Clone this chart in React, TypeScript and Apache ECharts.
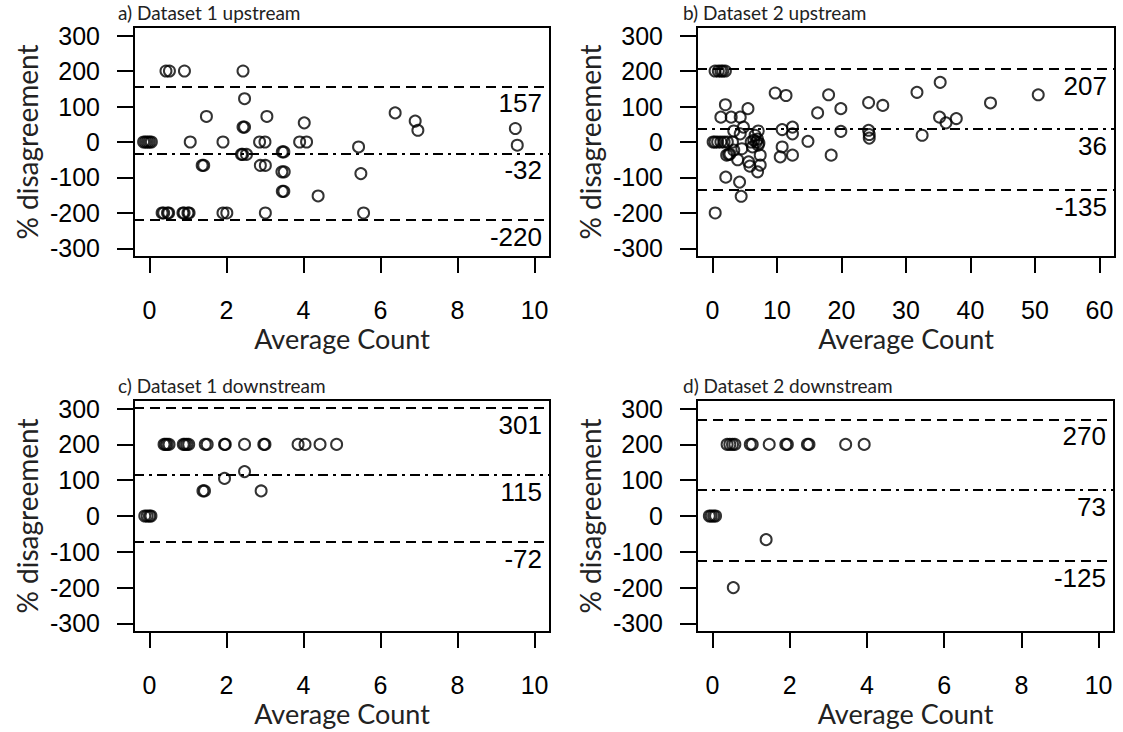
import React, { useEffect, useRef } from "react";
import * as echarts from "echarts";

// ---------- data ----------
const titles = ["a) Dataset 1 upstream", "b) Dataset 2 upstream", "c) Dataset 1 downstream", "d) Dataset 2 downstream"];

const xTicksSmall = [0, 2, 4, 6, 8, 10];
const xTicksLarge = [0, 10, 20, 30, 40, 50, 60];
const yTicks = [-300, -200, -100, 0, 100, 200, 300];

// limits: [upper, mean, lower]
const limitsA = [157, -32, -220];
const limitsB = [207, 36, -135];
const limitsC = [301, 115, -72];
const limitsD = [270, 73, -125];

// a) Dataset 1 upstream
const aX = [-0.15, -0.1, -0.05, 0, 0.05, 1.06, 1.91, 2.86, 3.0, 3.9, 4.08,
  0.43, 0.52, 0.91, 2.43,
  2.47, 1.48, 3.05, 6.38, 6.9, 6.97, 4.02, 9.5, 9.55,
  2.43, 2.47, 5.43,
  2.39, 2.42, 2.52, 3.45, 3.49,
  1.37, 1.41, 2.88, 3.01,
  3.44, 3.5, 5.49,
  3.45, 3.49, 4.38,
  0.33, 0.37, 0.47, 0.5, 0.87, 0.9, 1.0, 1.03, 1.91, 2.01, 3.01, 5.56];
const aY = [0, 0, 0, 0, 0, 0, 0, 0, 0, 0, 0,
  200, 200, 200, 200,
  122, 72, 72, 82, 59, 33, 54, 38, -9,
  42, 42, -14,
  -35, -35, -35, -28, -28,
  -66, -66, -66, -66,
  -84, -84, -89,
  -139, -139, -152,
  -200, -200, -200, -200, -200, -200, -200, -200, -200, -200, -200, -200];

// b) Dataset 2 upstream
const bX = [0.4, 0.9, 1.3, 1.6, 2.0,
  9.72, 11.4, 18.0, 31.7, 35.3, 50.5, 43.1, 24.2, 26.4, 19.9, 16.3, 35.2, 36.2, 37.8,
  32.5, 19.9, 24.2, 24.3, 24.3, 10.8, 12.4, 12.4, 14.8, 10.8, 10.5, 12.4, 18.4,
  2.0, 1.3, 2.9, 4.3, 5.5, 3.3, 4.8, 4.3, 7.1, 6.6,
  0.1, 0.4, 0.8, 1.3, 1.8, 2.3, 3.1,
  6.0, 6.4, 6.8, 7.2, 7.0,
  4.55, 3.3, 2.2, 2.5, 2.7, 3.9, 5.6, 5.8, 7.0, 7.4, 7.4, 6.2, 7.1, 2.06, 4.2, 4.45, 0.42];
const bY = [200, 200, 200, 200, 200,
  138, 131, 133, 140, 168, 133, 110, 111, 103, 94, 82, 70, 54, 66,
  19, 30, 33, 21, 11, 35, 42, 23, 2, -14, -42, -37, -37,
  105, 70, 70, 70, 94, 31, 42, 23, 31, 19,
  0, 0, 0, 0, 0, 0, 0,
  0, 5, 0, -3, 8,
  -19, -23, -37, -35, -34, -50, -56, -68, -84, -65, -37, -14, -9, -99, -113, -153, -200];

// c) Dataset 1 downstream
const cX = [0.38, 0.42, 0.46, 0.51, 0.88, 0.92, 0.97, 1.02, 1.45, 1.5, 1.95, 1.97, 2.47, 2.97, 3.0,
  3.86, 4.04, 4.43, 4.86,
  1.95, 2.47, 1.39, 1.43, 2.9,
  -0.12, -0.06, 0, 0.04];
const cY = [200, 200, 200, 200, 200, 200, 200, 200, 200, 200, 200, 200, 200, 200, 200,
  200, 200, 200, 200,
  105, 124, 70, 70, 70,
  0, 0, 0, 0];

// d) Dataset 2 downstream
const dX = [0.38, 0.45, 0.52, 0.58, 0.98, 1.03, 1.47, 1.9, 1.94, 2.46, 2.5, 3.45, 3.93,
  1.39, 0.54,
  -0.08, -0.03, 0.03, 0.08];
const dY = [200, 200, 200, 200, 200, 200, 200, 200, 200, 200, 200, 200, 200,
  -66, -200,
  0, 0, 0, 0];

// ---------- chart ----------
const NUM_FONT = '"Liberation Sans", Arial, sans-serif';
const TXT_FONT = 'Lato, "Open Sans", sans-serif';

const grids = [
  { left: 134, top: 27, width: 416, height: 230 },
  { left: 697, top: 27, width: 418, height: 230 },
  { left: 134, top: 400, width: 416, height: 232 },
  { left: 697, top: 400, width: 417, height: 232 },
];

const panels = [
  { xs: aX, ys: aY, lim: limitsA, ticks: xTicksSmall, min: -0.4, max: 10.4 },
  { xs: bX, ys: bY, lim: limitsB, ticks: xTicksLarge, min: -2.4, max: 62.4 },
  { xs: cX, ys: cY, lim: limitsC, ticks: xTicksSmall, min: -0.4, max: 10.4 },
  { xs: dX, ys: dY, lim: limitsD, ticks: xTicksSmall, min: -0.4, max: 10.4 },
];

const titlePos = [
  { left: 118, top: 3 },
  { left: 683, top: 3 },
  { left: 118, top: 376 },
  { left: 683, top: 376 },
];

function buildOption() {
  const dashed = [10, 6];
  const dotdash = [10, 5, 3, 5];
  return {
    animation: false,
    backgroundColor: "#fff",
    title: titles.map((t, i) => ({
      text: t,
      left: titlePos[i].left,
      top: titlePos[i].top,
      padding: 0,
      textStyle: { fontFamily: TXT_FONT, fontSize: 19, fontWeight: "normal", color: "#222" },
    })),
    grid: grids.map((g) => ({ ...g, show: true, borderColor: "#000", borderWidth: 2, backgroundColor: "transparent" })),
    xAxis: panels.map((p, i) => ({
      gridIndex: i,
      type: "value",
      min: p.min,
      max: p.max,
      axisLine: { show: false, onZero: false },
      splitLine: { show: false },
      axisTick: { show: true, length: 16, lineStyle: { color: "#000", width: 2 }, customValues: p.ticks },
      axisLabel: { customValues: p.ticks, margin: 40, fontSize: 25, color: "#000", fontFamily: NUM_FONT },
      name: "Average Count",
      nameLocation: "middle",
      nameGap: 68,
      nameTextStyle: { fontSize: 27, fontFamily: TXT_FONT, color: "#222" },
    })),
    yAxis: panels.map((p, i) => ({
      gridIndex: i,
      type: "value",
      min: -324,
      max: 324,
      axisLine: { show: false, onZero: false },
      splitLine: { show: false },
      axisTick: { show: true, length: 17, lineStyle: { color: "#000", width: 2 }, customValues: yTicks },
      axisLabel: { customValues: yTicks, margin: 34, fontSize: 25, color: "#000", fontFamily: NUM_FONT },
      name: "% disagreement",
      nameLocation: "middle",
      nameGap: 93,
      nameTextStyle: { fontSize: 28, fontFamily: TXT_FONT, color: "#222" },
    })),
    series: panels.map((p, i) => ({
      type: "scatter",
      xAxisIndex: i,
      yAxisIndex: i,
      symbol: "circle",
      symbolSize: 11,
      itemStyle: { color: "rgba(0,0,0,0)", borderColor: "#000", borderWidth: 2 },
      data: p.xs.map((x, k) => [x, p.ys[k]]),
      markLine: {
        silent: true,
        symbol: "none",
        animation: false,
        label: {
          show: true,
          position: "insideEndBottom",
          distance: [8, 4],
          formatter: (d: any) => String(d.value),
          fontSize: 26,
          fontFamily: NUM_FONT,
          color: "#000",
        },
        data: p.lim.map((v, k) => ({
          yAxis: v,
          lineStyle: { color: "#000", width: 2, type: k === 1 ? dotdash : dashed },
        })),
      },
    })),
  };
}

export default function App() {
  const ref = useRef<HTMLDivElement>(null);
  useEffect(() => {
    document.body.style.margin = "0";
    if (!ref.current) return;
    const chart = echarts.init(ref.current, undefined, { renderer: "svg" });
    chart.setOption(buildOption() as any);
    return () => chart.dispose();
  }, []);
  return <div ref={ref} style={{ width: 1123, height: 732 }} />;
}
